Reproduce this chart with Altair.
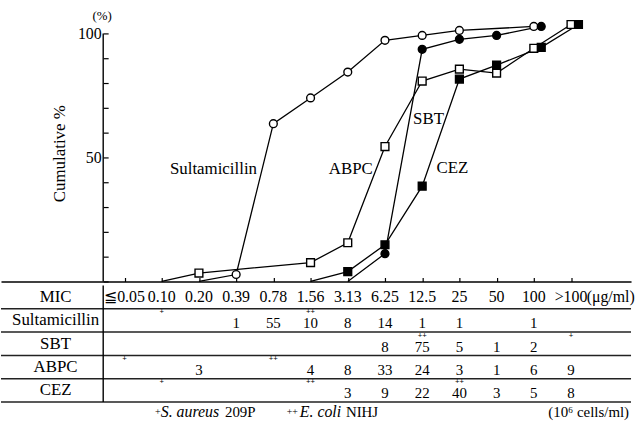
import altair as alt
import pandas as pd

FONT = "Liberation Serif"

# MIC categories (x index 0..12)
categories = ["≦0.05", "0.10", "0.20", "0.39", "0.78", "1.56", "3.13",
              "6.25", "12.5", "25", "50", "100", ">100"]
series_names = ["Sultamicillin", "SBT", "ABPC", "CEZ"]

# cumulative % curves (x = MIC category index)
sult_x = [2, 3, 4, 5, 6, 7, 8, 9, 11]
sult_y = [0, 2.8, 63.6, 74.0, 84.4, 97.2, 99.2, 101.2, 102.8]
sbt_x = [6, 7, 8, 9, 10, 11.2]
sbt_y = [0, 11.2, 93.6, 97.6, 99.2, 102.8]
abpc_x = [1, 2, 5, 6, 7, 8, 9, 10, 11, 12]
abpc_y = [0, 3.4, 7.6, 15.6, 54.4, 80.8, 85.6, 84.0, 94.0, 103.6]
cez_x = [5, 6, 7, 8, 9, 10, 11.2, 12.2]
cez_y = [0, 4.0, 14.8, 38.4, 81.6, 87.2, 94.4, 103.6]

# strain counts per MIC column
sult_counts = [None, None, None, 1, 55, 10, 8, 14, 1, 1, None, 1, None]
sbt_counts = [None, None, None, None, None, None, None, 8, 75, 5, 1, 2, None]
abpc_counts = [None, None, 3, None, None, 4, 8, 33, 24, 3, 1, 6, 9]
cez_counts = [None, None, None, None, None, None, 3, 9, 22, 40, 3, 5, 8]

# MIC of control strains (+ S. aureus 209P, ++ E. coli NIHJ)
sult_marks = [(1, "+"), (5, "++")]
sbt_marks = [(8, "++"), (12, "+")]
abpc_marks = [(0, "+"), (4, "++")]
cez_marks = [(1, "+"), (5, "++"), (9, "++")]

XMIN, XMAX = -3.32, 13.613
AXIS_X = -0.573
YMAX = 112.8

xs = alt.Scale(domain=[XMIN, XMAX], nice=False, zero=False)
ysc = alt.Scale(domain=[0, YMAX], nice=False, zero=False)

X_TOP = alt.X("x:Q", scale=xs,
              axis=alt.Axis(orient="top", offset=-282, values=list(range(13)),
                            labels=False, ticks=True, tickSize=4, tickColor="black",
                            tickWidth=1.2, domain=True, domainColor="black",
                            domainWidth=1.6, title=None, grid=False))
Y_TOP = alt.Y("y:Q", scale=ysc,
              axis=alt.Axis(orient="left", offset=-108, domain=False, ticks=True,
                            tickSize=5, values=list(range(0, 101, 10)),
                            tickColor="black", tickWidth=1.2,
                            labelExpr="datum.value == 50 || datum.value == 100 ? datum.label : ''",
                            labelFont=FONT, labelFontSize=16, labelColor="black",
                            labelPadding=2, labelBaseline="middle",
                            title=None, grid=False))

# ---------- top: cumulative curves ----------
rows = []
for name, X, Y in zip(series_names, [sult_x, sbt_x, abpc_x, cez_x],
                      [sult_y, sbt_y, abpc_y, cez_y]):
    for i, (a, b) in enumerate(zip(X, Y)):
        rows.append({"series": name, "x": a, "y": b, "o": i})
curves = pd.DataFrame(rows)

shape_scale = alt.Scale(domain=series_names, range=["circle", "circle", "square", "square"])
fill_scale = alt.Scale(domain=series_names, range=["white", "black", "white", "black"])

lines = alt.Chart(curves).mark_line(color="black", strokeWidth=1.3).encode(
    x=X_TOP, y=Y_TOP, detail="series:N", order="o:Q")

points = alt.Chart(curves).transform_filter("datum.y > 0").mark_point(
    filled=True, stroke="black", strokeWidth=1.4, size=62, opacity=1
).encode(
    x=X_TOP, y=Y_TOP,
    shape=alt.Shape("series:N", scale=shape_scale, legend=None),
    fill=alt.Fill("series:N", scale=fill_scale, legend=None),
)

yaxis_line = alt.Chart(pd.DataFrame({"x": [AXIS_X], "y": [0], "y2": [100]})).mark_rule(
    color="black", strokeWidth=1.4
).encode(x=X_TOP, y=Y_TOP, y2="y2:Q")

ann = pd.DataFrame({
    "label": ["Sultamicillin", "ABPC", "SBT", "CEZ"],
    "x": [2.39, 6.08, 8.17, 8.81],
    "y": [45.2, 45.2, 65.3, 45.8],
})
ann_text = alt.Chart(ann).mark_text(font=FONT, fontSize=17, color="black").encode(
    x=X_TOP, y=Y_TOP, text="label:N")

pct = alt.Chart(pd.DataFrame({"x": [-0.6], "y": [107.2], "t": ["(%)"]})).mark_text(
    font=FONT, fontSize=13, color="black").encode(x=X_TOP, y=Y_TOP, text="t:N")

ytitle = alt.Chart(pd.DataFrame({"x": [-1.72], "y": [51.5], "t": ["Cumulative %"]})).mark_text(
    font=FONT, fontSize=17, angle=270, color="black").encode(x=X_TOP, y=Y_TOP, text="t:N")

top = alt.layer(lines, points, yaxis_line, ann_text, pct, ytitle).properties(
    width=635, height=282)

# ---------- bottom: table ----------
ys = alt.Scale(domain=[0, 6], reverse=True, nice=False, zero=False)
XB = alt.X("x:Q", scale=xs, axis=None)
YB = alt.Y("y:Q", scale=ys, axis=None)
row_names = ["MIC", "Sultamicillin", "SBT", "ABPC", "CEZ"]

hl = pd.DataFrame({"x": [XMIN] * 5, "x2": [XMAX] * 5, "y": [1, 2, 3, 4, 5]})
hrules = alt.Chart(hl).mark_rule(color="#222", strokeWidth=1.5).encode(
    x=XB, x2="x2:Q", y=YB)
vrule = alt.Chart(pd.DataFrame({"x": [AXIS_X], "y": [0], "y2": [5]})).mark_rule(
    color="black", strokeWidth=1.4).encode(x=XB, y=YB, y2="y2:Q")

rl = pd.DataFrame({"label": row_names, "y": [i + 0.5 for i in range(5)], "x": [-1.853] * 5})
row_labels = alt.Chart(rl).mark_text(font=FONT, fontSize=17, color="black").encode(
    x=XB, y=YB, text="label:N")

mic = pd.DataFrame({"label": categories, "x": list(range(13)), "y": [0.5] * 13})
mic_text = alt.Chart(mic).mark_text(font=FONT, fontSize=16, color="black").encode(
    x=XB, y=YB, text="label:N")
unit_text = alt.Chart(pd.DataFrame({"x": [12.42], "y": [0.5], "t": ["(μg/ml)"]})).mark_text(
    font=FONT, fontSize=16, align="left", color="black").encode(x=XB, y=YB, text="t:N")

cnt_rows = []
for r, counts in enumerate([sult_counts, sbt_counts, abpc_counts, cez_counts], start=1):
    for c, v in enumerate(counts):
        if v is not None:
            cnt_rows.append({"x": c, "y": r + 0.5, "t": str(v)})
counts_text = alt.Chart(pd.DataFrame(cnt_rows)).mark_text(
    font=FONT, fontSize=15, dy=3, color="black").encode(x=XB, y=YB, text="t:N")

mk_rows = []
for r, marks in enumerate([sult_marks, sbt_marks, abpc_marks, cez_marks], start=1):
    for c, m in marks:
        mk_rows.append({"x": c, "y": r + 0.5, "t": m})
marks_text = alt.Chart(pd.DataFrame(mk_rows)).mark_text(
    font=FONT, fontSize=8, fontWeight="bold", dy=-8, color="black").encode(
    x=XB, y=YB, text="t:N")

foot = pd.DataFrame({
    "t": ["+", "S. aureus", "209P", "++", "E. coli", "NIHJ"],
    "x": [0.817, 0.973, 2.70, 4.36, 4.71, 5.95],
    "y": [5.5] * 6,
    "style": ["normal", "italic", "normal", "normal", "italic", "normal"],
    "size": [10, 16, 15, 10, 16, 15],
})
foot_normal = alt.Chart(foot).transform_filter("datum.style == 'normal'").mark_text(
    font=FONT, align="left", dy=-2, color="black").encode(
    x=XB, y=YB, text="t:N", size=alt.Size("size:Q", scale=None, legend=None))
foot_italic = alt.Chart(foot).transform_filter("datum.style == 'italic'").mark_text(
    font=FONT, align="left", fontStyle="italic", dy=-2, color="black").encode(
    x=XB, y=YB, text="t:N", size=alt.Size("size:Q", scale=None, legend=None))
cells = alt.Chart(pd.DataFrame({"x": [13.56], "y": [5.5], "t": ["(10⁶ cells/ml)"]})).mark_text(
    font=FONT, fontSize=15, align="right", dy=-2, color="black").encode(
    x=XB, y=YB, text="t:N")

table = alt.layer(hrules, vrule, row_labels, mic_text, unit_text, counts_text, marks_text,
                  foot_normal, foot_italic, cells).properties(width=635, height=141)

chart = alt.vconcat(top, table, spacing=0).properties(
    padding=0, background="white"
).configure_view(stroke=None).configure_axis(grid=False)

chart.save("out.html", embed_options={"renderer": "svg", "actions": False})
